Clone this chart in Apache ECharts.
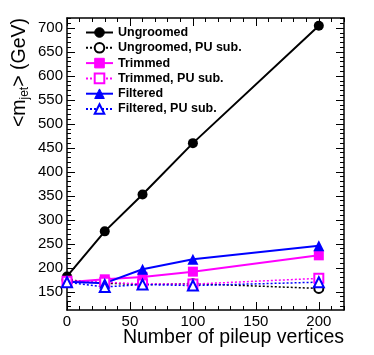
<!DOCTYPE html>
<html>
<head>
<meta charset="utf-8">
<script src="https://cdn.jsdelivr.net/npm/echarts@6/dist/echarts.min.js"></script>
<style>
  html, body { margin: 0; padding: 0; background: #fff; }
  #main { width: 374px; height: 355px; }
</style>
</head>
<body>
<div id="main"></div>
<script>
// pileup vertices (x) and mean jet mass (y, GeV)
const nVtx = [0, 30, 60, 100, 200]
const ungroomed = [182, 276, 353, 460, 705]
const ungroomedSub = [175, 168, 165, 167, 157]
const trimmed = [170, 176, 181, 192, 226]
const trimmedSub = [172, 170, 166, 166, 178]
const filtered = [171, 168, 197, 218, 246]
const filteredSub = [170, 160, 165, 163, 170]

const xTicks = [0, 50, 100, 150, 200]
const yTicks = [150, 200, 250, 300, 350, 400, 450, 500, 550, 600, 650, 700]
const xMinor = []
for (let v = 10; v <= 220; v += 10) xMinor.push(v)
const yMinor = []
for (let v = 120; v <= 720; v += 10) yMinor.push(v)

const FONT = 'Liberation Sans'
const X_MIN = 0
const X_MAX = 220
const Y_MIN = 112
const Y_MAX = 721

const pairs = (ys) => nVtx.map((x, i) => [x, ys[i]])

// one axis for major ticks + labels, plus tick-only copies for minor ticks and the mirrored side
function axis(kind, position, major, minor, labels, showLine) {
  return {
    type: 'value',
    position: position,
    min: kind === 'x' ? X_MIN : Y_MIN,
    max: kind === 'x' ? X_MAX : Y_MAX,
    splitLine: { show: false },
    axisLine: { show: showLine, onZero: false, lineStyle: { color: '#000', width: 1.5 } },
    axisTick: {
      show: true,
      inside: true,
      length: minor ? 4 : 8,
      customValues: minor || major,
      lineStyle: { color: '#000', width: 1 }
    },
    axisLabel: labels
      ? { show: true, customValues: major, fontSize: 15, margin: 4, color: '#000', fontFamily: FONT }
      : { show: false }
  }
}

const lineSeries = (name, ys, color, symbol, dotted, size) => ({
  name: name,
  type: 'line',
  data: pairs(ys),
  xAxisIndex: 0,
  yAxisIndex: 0,
  symbol: symbol,
  symbolSize: size,
  showSymbol: true,
  lineStyle: { color: color, width: dotted ? 1.5 : 2, type: dotted ? [2, 2] : 'solid' },
  itemStyle: { color: color, borderColor: color, borderWidth: dotted ? 1 : 0 },
  emphasis: { disabled: true }
})

const chart = echarts.init(document.getElementById('main'))
chart.setOption({
  animation: false,
  backgroundColor: '#fff',
  grid: { left: 67, right: 30, top: 18, bottom: 45 },
  xAxis: [
    axis('x', 'bottom', xTicks, null, true, true),
    axis('x', 'bottom', xTicks, xMinor, false, false),
    axis('x', 'top', xTicks, null, false, true),
    axis('x', 'top', xTicks, xMinor, false, false)
  ],
  yAxis: [
    axis('y', 'left', yTicks, null, true, true),
    axis('y', 'left', yTicks, yMinor, false, false),
    axis('y', 'right', yTicks, null, false, true),
    axis('y', 'right', yTicks, yMinor, false, false)
  ],
  legend: {
    orient: 'vertical',
    left: 80,
    top: 21,
    itemWidth: 27,
    itemHeight: 12,
    itemGap: 2.3,
    selectedMode: false,
    itemStyle: { borderWidth: 1 },
    textStyle: { fontSize: 12.5, fontWeight: 'bold', color: '#000', fontFamily: FONT }
  },
  series: [
    lineSeries('Ungroomed', ungroomed, '#000000', 'circle', false, 10),
    lineSeries('Ungroomed, PU sub.', ungroomedSub, '#000000', 'emptyCircle', true, 9),
    lineSeries('Trimmed', trimmed, '#ff00ff', 'rect', false, 10),
    lineSeries('Trimmed, PU sub.', trimmedSub, '#ff00ff', 'emptyRect', true, 9),
    lineSeries('Filtered', filtered, '#0000ff', 'triangle', false, 11),
    lineSeries('Filtered, PU sub.', filteredSub, '#0000ff', 'emptyTriangle', true, 10)
  ],
  graphic: [
    {
      type: 'text',
      right: 30,
      top: 328,
      style: {
        text: 'Number of pileup vertices',
        fontSize: 19.5,
        fontFamily: FONT,
        fill: '#000'
      }
    },
    {
      type: 'text',
      x: 20,
      y: 18,
      rotation: Math.PI / 2,
      style: {
        text: '{n|<m}{s|jet}{n|> (GeV)}',
        align: 'right',
        verticalAlign: 'middle',
        fill: '#000',
        rich: {
          n: { fontSize: 19.5, fontFamily: FONT, lineHeight: 22, verticalAlign: 'middle' },
          s: { fontSize: 12, fontFamily: FONT, lineHeight: 22, verticalAlign: 'bottom', padding: [9, 0, 0, 0] }
        }
      }
    }
  ]
})
</script>
</body>
</html>
